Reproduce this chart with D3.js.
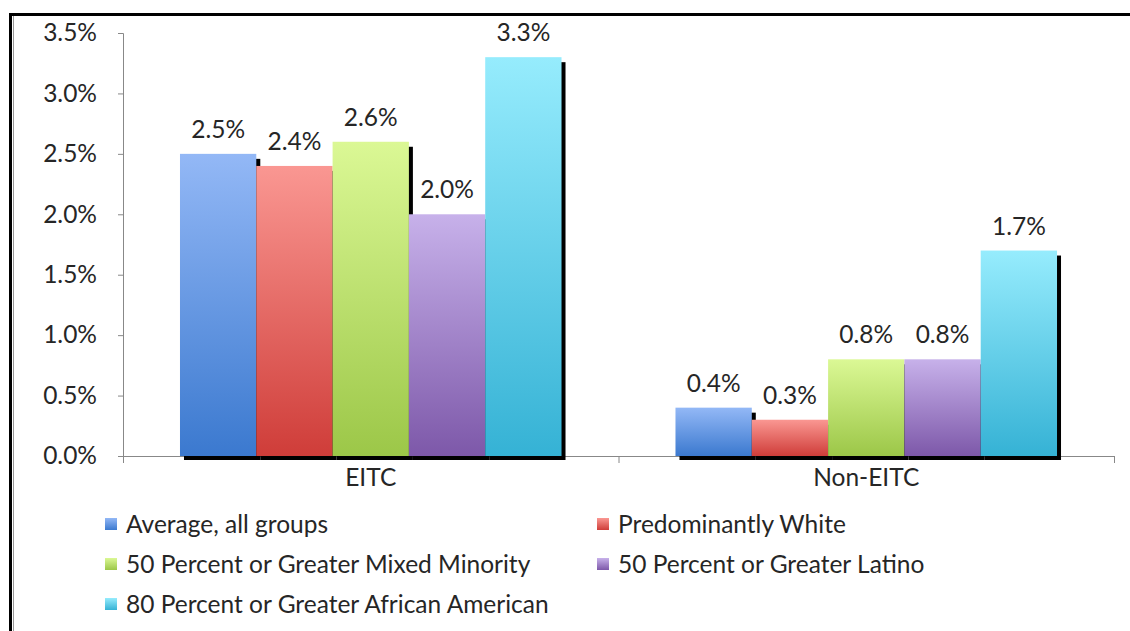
<!DOCTYPE html>
<html>
<head>
<meta charset="utf-8">
<script src="https://d3js.org/d3.v7.min.js"></script>
<style>
  body { margin: 0; background: #fff; }
  text { font-family: Lato, "Open Sans", sans-serif; fill: #262626; }
</style>
</head>
<body>
<svg id="chart"></svg>
<script>
// categories, series and values
var groups = ["EITC", "Non-EITC"];
var series = ["Average, all groups", "Predominantly White",
    "50 Percent or Greater Mixed Minority", "50 Percent or Greater Latino",
    "80 Percent or Greater African American"];
var eitcValues = [2.5, 2.4, 2.6, 2.0, 3.3];
var nonEitcValues = [0.4, 0.3, 0.8, 0.8, 1.7];
var yTicks = [0, 0.5, 1.0, 1.5, 2.0, 2.5, 3.0, 3.5];

// light top / dark bottom of every bar
var topColors = ["#93b8f6", "#fa9792", "#dbf895", "#c7b1ea", "#96ecfd"];
var bottomColors = ["#3b79cf", "#cf3d39", "#9cc748", "#7d58a9", "#35b2d5"];

var width = 1130,
    height = 631,
    fontSize = 24.5;

var svg = d3.select("#chart")
    .attr("width", width)
    .attr("height", height);

// outer frame
svg.append("rect")
    .attr("x", 10.5).attr("y", 14.5)
    .attr("width", width + 20).attr("height", height + 20)
    .attr("fill", "none")
    .attr("stroke", "black")
    .attr("stroke-width", 3);
svg.append("line")
    .attr("x1", 13.5).attr("x2", 13.5)
    .attr("y1", 16).attr("y2", height)
    .attr("stroke", "#999");

var defs = svg.append("defs");
series.forEach(function(s, i) {
    var g = defs.append("linearGradient")
        .attr("id", "grad" + i)
        .attr("x1", 0).attr("y1", 0).attr("x2", 0).attr("y2", 1);
    g.append("stop").attr("offset", "0%").attr("stop-color", topColors[i]);
    g.append("stop").attr("offset", "100%").attr("stop-color", bottomColors[i]);
});

var plot = {left: 123, right: 1114, top: 33, bottom: 456};

var y = d3.scaleLinear()
    .domain([0, 3.5])
    .range([plot.bottom, plot.top]);

var x0 = d3.scaleBand()
    .domain(groups)
    .range([plot.left, plot.right])
    .paddingInner(0.23)
    .paddingOuter(0.115);

var x1 = d3.scaleBand()
    .domain(d3.range(series.length))
    .range([0, x0.bandwidth()]);

var data = [];
groups.forEach(function(g, gi) {
    var vals = gi == 0 ? eitcValues : nonEitcValues;
    vals.forEach(function(v, i) {
        data.push({group: g, idx: i, value: v});
    });
});

// y axis
var yAxis = svg.append("g")
    .attr("transform", "translate(" + plot.left + ",0)")
    .call(d3.axisLeft(y)
        .tickValues(yTicks)
        .tickSize(5)
        .tickFormat(function(d) { return d.toFixed(1) + "%"; }));
yAxis.select(".domain").attr("stroke", "#888");
yAxis.selectAll(".tick line").attr("stroke", "#888");
yAxis.selectAll(".tick text")
    .attr("x", -26)
    .attr("font-size", fontSize)
    .attr("font-family", "Lato, sans-serif")
    .attr("fill", "#262626");

// x axis line with boundary ticks
var xLine = svg.append("g");
xLine.append("line")
    .attr("x1", plot.left).attr("x2", plot.right)
    .attr("y1", plot.bottom + 0.5).attr("y2", plot.bottom + 0.5)
    .attr("stroke", "#888");
[plot.left, (plot.left + plot.right) / 2, plot.right].forEach(function(t) {
    xLine.append("line")
        .attr("x1", t + 0.5).attr("x2", t + 0.5)
        .attr("y1", plot.bottom).attr("y2", plot.bottom + 7)
        .attr("stroke", "#888");
});

// shadows first
svg.append("g").selectAll("rect")
    .data(data).enter()
    .append("rect")
    .attr("x", function(d) { return x0(d.group) + x1(d.idx) + 4; })
    .attr("y", function(d) { return y(d.value) + 5; })
    .attr("width", x1.bandwidth())
    .attr("height", function(d) { return plot.bottom - y(d.value) - 1; })
    .attr("fill", "black");

svg.append("g").selectAll("rect")
    .data(data).enter()
    .append("rect")
    .attr("x", function(d) { return x0(d.group) + x1(d.idx); })
    .attr("y", function(d) { return y(d.value); })
    .attr("width", x1.bandwidth())
    .attr("height", function(d) { return plot.bottom - y(d.value); })
    .attr("fill", function(d) { return "url(#grad" + d.idx + ")"; });

// value labels
svg.append("g").selectAll("text")
    .data(data).enter()
    .append("text")
    .attr("x", function(d) { return x0(d.group) + x1(d.idx) + x1.bandwidth() / 2; })
    .attr("y", function(d) { return y(d.value) - 16; })
    .attr("text-anchor", "middle")
    .attr("font-size", fontSize)
    .text(function(d) { return d.value.toFixed(1) + "%"; });

// category labels
svg.append("g").selectAll("text")
    .data(groups).enter()
    .append("text")
    .attr("x", function(d) { return x0(d) + x0.bandwidth() / 2; })
    .attr("y", 486)
    .attr("text-anchor", "middle")
    .attr("font-size", fontSize)
    .text(function(d) { return d; });

// legend, two columns
var legend = svg.append("g").selectAll("g")
    .data(series).enter()
    .append("g")
    .attr("transform", function(d, i) {
        return "translate(" + (i % 2 == 0 ? 105 : 597) + "," + (524 + Math.floor(i / 2) * 40) + ")";
    });
legend.append("rect")
    .attr("x", 0).attr("y", -6)
    .attr("width", 12).attr("height", 12)
    .attr("fill", function(d, i) { return "url(#grad" + i + ")"; });
legend.append("text")
    .attr("x", 21)
    .attr("y", 9)
    .attr("font-size", fontSize)
    .text(function(d) { return d; });
</script>
</body>
</html>
